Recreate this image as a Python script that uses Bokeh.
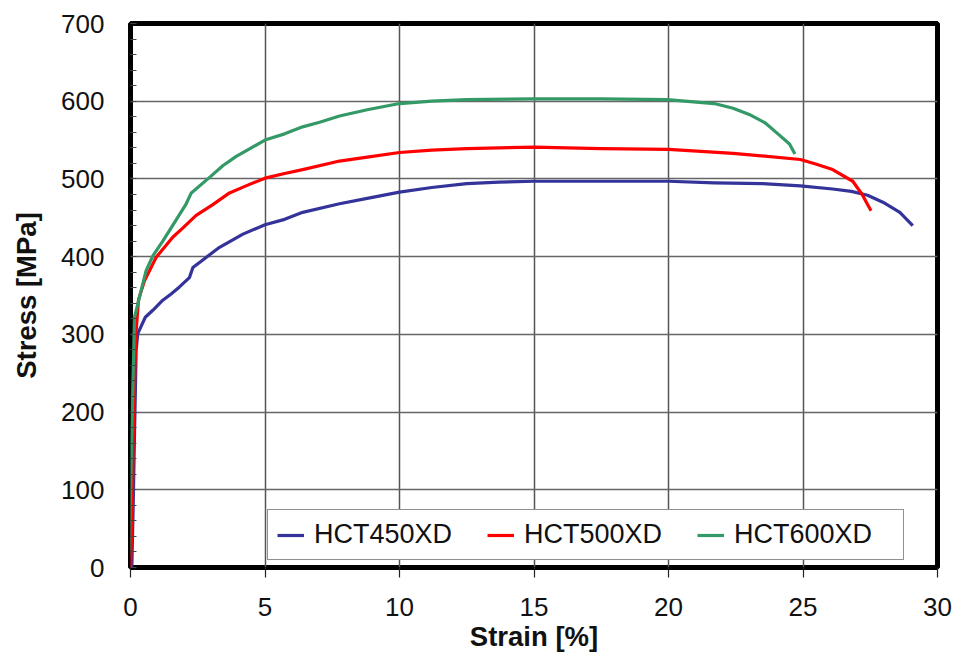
from bokeh.plotting import figure
from bokeh.models import Range1d, SingleIntervalTicker
from bokeh.embed import file_html
from bokeh.resources import INLINE

# ---- data ----
strain_450 = [0.05, 0.1, 0.15, 0.21, 0.27, 0.55, 0.83, 1.2, 1.51, 1.82, 2.19, 2.32, 2.81, 3.31,
              4.18, 5.0, 5.73, 6.4, 7.77, 8.8, 10.0, 11.2, 12.5, 13.7, 15.0, 17.5, 20.0,
              21.7, 23.5, 24.9, 26.1, 26.8, 27.4, 27.97, 28.6, 29.08]
stress_450 = [0, 80, 173, 280, 301, 322, 331, 344, 352, 361, 373, 386, 399, 412,
              429, 441, 448, 457, 468, 475, 483, 489, 494, 496, 497, 497, 497,
              495, 494, 491, 487, 484, 479, 470, 457, 440]

strain_500 = [0.0, 0.05, 0.12, 0.2, 0.3, 0.52, 0.95, 1.57, 1.95, 2.44, 3.06, 3.68, 4.36, 5.0,
              5.73, 6.4, 7.77, 8.8, 10.0, 11.2, 12.5, 13.7, 15.0, 17.5, 20.0, 22.4, 24.9,
              25.5, 26.1, 26.85, 27.2, 27.4, 27.53]
stress_500 = [0, 50, 200, 300, 345, 369, 399, 425, 437, 453, 467, 482, 492, 501,
              507, 512, 523, 528, 534, 537, 539, 540, 541, 539, 538, 533, 525,
              519, 512, 497, 480, 467, 459]

strain_600 = [-0.29, -0.1, -0.04, 0.02, 0.09, 0.15, 0.58, 0.83, 1.2, 1.64, 2.07, 2.26, 2.94,
              3.43, 3.93, 4.49, 5.0, 5.73, 6.4, 7.03, 7.77, 8.8, 10.0, 11.2, 12.5, 15.0,
              17.5, 19.95, 21.7, 22.4, 23.0, 23.6, 24.1, 24.5, 24.7]
stress_600 = [0, 5, 27, 130, 237, 322, 382, 401, 420, 444, 468, 482, 502,
              517, 529, 540, 550, 558, 567, 573, 581, 589, 597, 600, 602, 603,
              603, 602, 597, 591, 583, 572, 557, 545, 532]

series_names = ["HCT450XD", "HCT500XD", "HCT600XD"]
series_colors = ["#333399", "#ff0000", "#339966"]

x_title = "Strain [%]"
y_title = "Stress [MPa]"

FONT = "Liberation Sans"

p = figure(width=952, height=657, output_backend="svg", toolbar_location=None,
           x_range=Range1d(0, 30), y_range=Range1d(0, 700),
           min_border_left=130, min_border_right=15, min_border_top=23, min_border_bottom=90)

p.background_fill_color = "white"
p.border_fill_color = "white"
p.outline_line_color = "black"
p.outline_line_width = 5

for xs, ys, name, col in zip([strain_450, strain_500, strain_600],
                             [stress_450, stress_500, stress_600],
                             series_names, series_colors):
    p.line(xs, ys, line_color=col, line_width=3.2, line_join="round", legend_label=name)

# axes
p.xaxis.ticker = SingleIntervalTicker(interval=5, num_minor_ticks=0)
p.yaxis.ticker = SingleIntervalTicker(interval=100, num_minor_ticks=5)

for ax in (p.xaxis, p.yaxis):
    ax.axis_line_color = None
    ax.major_label_text_font = FONT
    ax.major_label_text_font_size = "26px"
    ax.major_label_text_color = "#111111"
    ax.axis_label_text_font = FONT
    ax.axis_label_text_font_size = "27.5px"
    ax.axis_label_text_font_style = "bold"
    ax.axis_label_text_color = "#111111"

p.xaxis.axis_label = x_title
p.yaxis.axis_label = y_title

p.xaxis.major_tick_out = 10
p.xaxis.major_tick_in = 0
p.xaxis.major_tick_line_color = "#222222"
p.xaxis.major_tick_line_width = 1.2
p.xaxis.major_label_standoff = 20
p.xaxis.axis_label_standoff = 2

p.yaxis.major_tick_out = 0
p.yaxis.major_tick_in = 0
p.yaxis.minor_tick_in = 6
p.yaxis.minor_tick_out = 0
p.yaxis.minor_tick_line_color = "#444444"
p.yaxis.minor_tick_line_width = 1
p.yaxis.major_label_standoff = 26
p.yaxis.axis_label_standoff = 16

p.xgrid.grid_line_color = "#555555"
p.xgrid.grid_line_width = 1.5
p.ygrid.grid_line_color = "#666666"
p.ygrid.grid_line_width = 1.5

# legend
lg = p.legend[0]
lg.orientation = "horizontal"
lg.location = (137, 7)
lg.label_text_font = FONT
lg.label_text_font_size = "27px"
lg.label_text_color = "#111111"
lg.glyph_width = 27
lg.glyph_height = 24
lg.label_standoff = 10
lg.label_width = 160
lg.spacing = 13
lg.padding = 9
lg.margin = 0
lg.border_line_color = "#222222"
lg.border_line_width = 1.5
lg.background_fill_color = "white"
lg.background_fill_alpha = 1

open("out.html", "w").write(file_html(p, INLINE))
